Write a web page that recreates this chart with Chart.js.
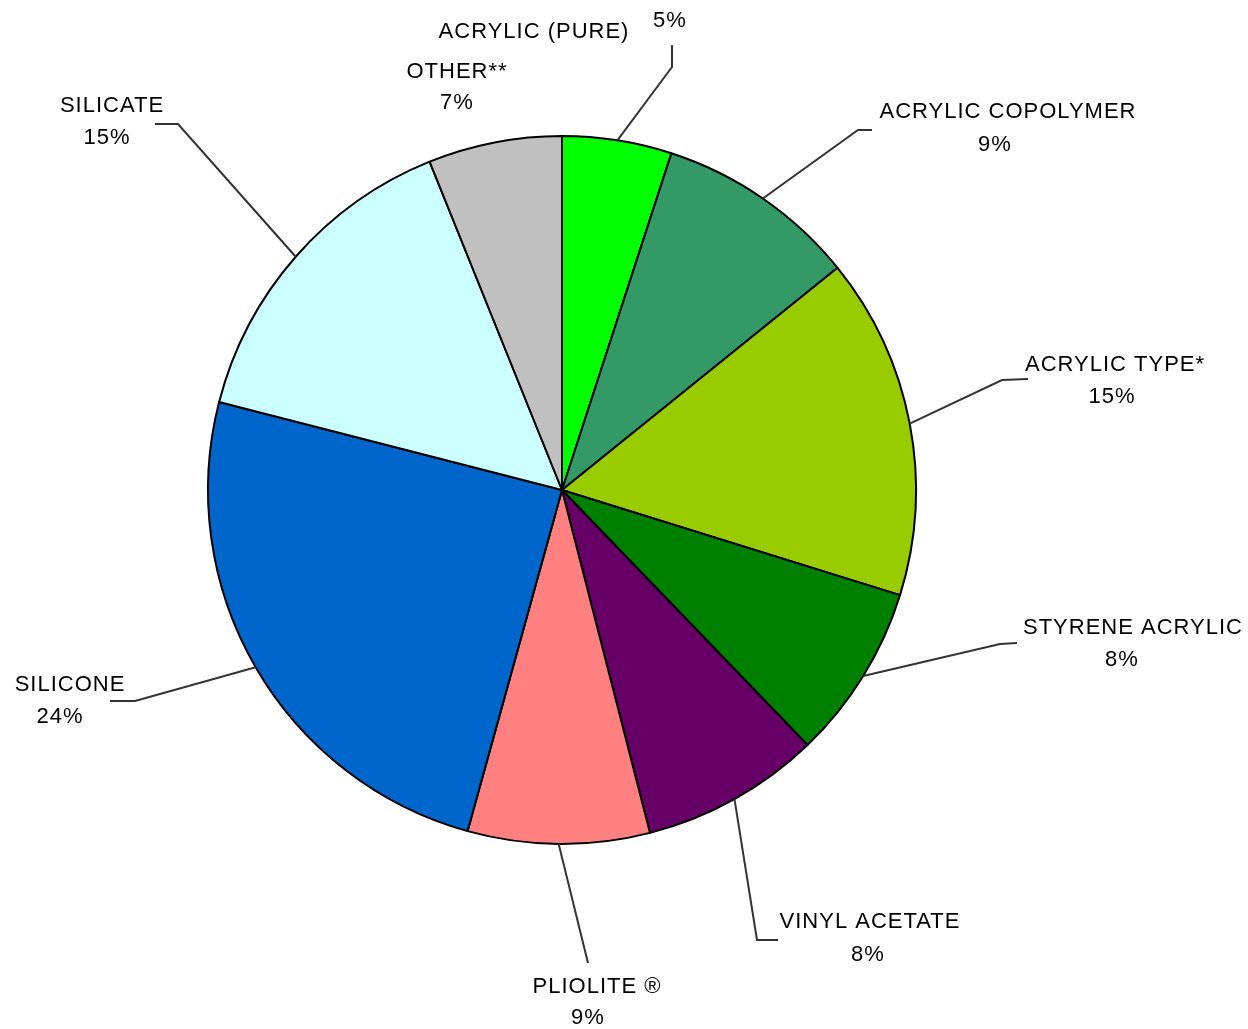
<!DOCTYPE html>
<html>
<head>
<meta charset="utf-8">
<script src="https://cdn.jsdelivr.net/npm/chart.js@4.4.1/dist/chart.umd.min.js"></script>
<style>
  html, body { margin: 0; padding: 0; background: #fff; }
</style>
</head>
<body>
<canvas id="pieChart" width="1248" height="1029"></canvas>
<script>
const categories = ['ACRYLIC (PURE)', 'ACRYLIC COPOLYMER', 'ACRYLIC TYPE*', 'STYRENE ACRYLIC',
  'VINYL ACETATE', 'PLIOLITE ®', 'SILICONE', 'SILICATE', 'OTHER**'];
const shares = [5.0, 9.2, 15.6, 8.0, 8.2, 8.3, 24.7, 14.9, 6.1];
const pctLabels = ['5%', '9%', '15%', '8%', '8%', '9%', '24%', '15%', '7%'];
const colors = ['#00FF00', '#339966', '#99CC00', '#008000', '#660066', '#FF8080', '#0066CC', '#CCFFFF', '#C0C0C0'];

// where each label and its leader line goes (page pixels)
const labelLayout = [
  { line: [[672, 67], [672, 45]], name: [534, 32], pct: [670, 21] },
  { line: [[858, 130], [872, 130]], name: [1008, 112], pct: [995, 145] },
  { line: [[1002, 380], [1028, 379]], name: [1115, 365], pct: [1112, 397] },
  { line: [[1000, 644], [1017, 643]], name: [1133, 628], pct: [1122, 660] },
  { line: [[757, 940], [778, 940]], name: [870, 922], pct: [868, 955] },
  { line: [[588, 963]], name: [597, 987], pct: [588, 1018] },
  { line: [[135, 701], [110, 701]], name: [70, 685], pct: [60, 717] },
  { line: [[178, 124], [155, 124]], name: [112, 106], pct: [107, 138] },
  { line: null, name: [457, 72], pct: [457, 103] }
];

const calloutPlugin = {
  id: 'callouts',
  afterDraw(chart) {
    const c = chart.ctx;
    const arcs = chart.getDatasetMeta(0).data;
    c.save();
    arcs.forEach((arc, i) => {
      const lay = labelLayout[i];
      if (lay.line) {
        const mid = (arc.startAngle + arc.endAngle) / 2;
        const sx = arc.x + Math.cos(mid) * arc.outerRadius;
        const sy = arc.y + Math.sin(mid) * arc.outerRadius;
        c.beginPath();
        c.moveTo(sx, sy);
        lay.line.forEach(p => c.lineTo(p[0], p[1]));
        c.strokeStyle = '#333';
        c.lineWidth = 2;
        c.stroke();
      }
      c.fillStyle = '#000';
      c.font = '22px "Liberation Sans", Arial, sans-serif';
      c.letterSpacing = '1px';
      c.textAlign = 'center';
      c.textBaseline = 'middle';
      c.fillText(categories[i], lay.name[0], lay.name[1]);
      c.fillText(pctLabels[i], lay.pct[0], lay.pct[1]);
    });
    c.restore();
  }
};

new Chart(document.getElementById('pieChart'), {
  type: 'pie',
  data: {
    labels: categories,
    datasets: [{
      data: shares,
      backgroundColor: colors,
      borderColor: '#000',
      borderWidth: 2
    }]
  },
  options: {
    responsive: false,
    animation: false,
    layout: { padding: { left: 207, right: 331, top: 134, bottom: 183 } },
    plugins: {
      legend: { display: false },
      tooltip: { enabled: false }
    }
  },
  plugins: [calloutPlugin]
});
</script>
</body>
</html>
